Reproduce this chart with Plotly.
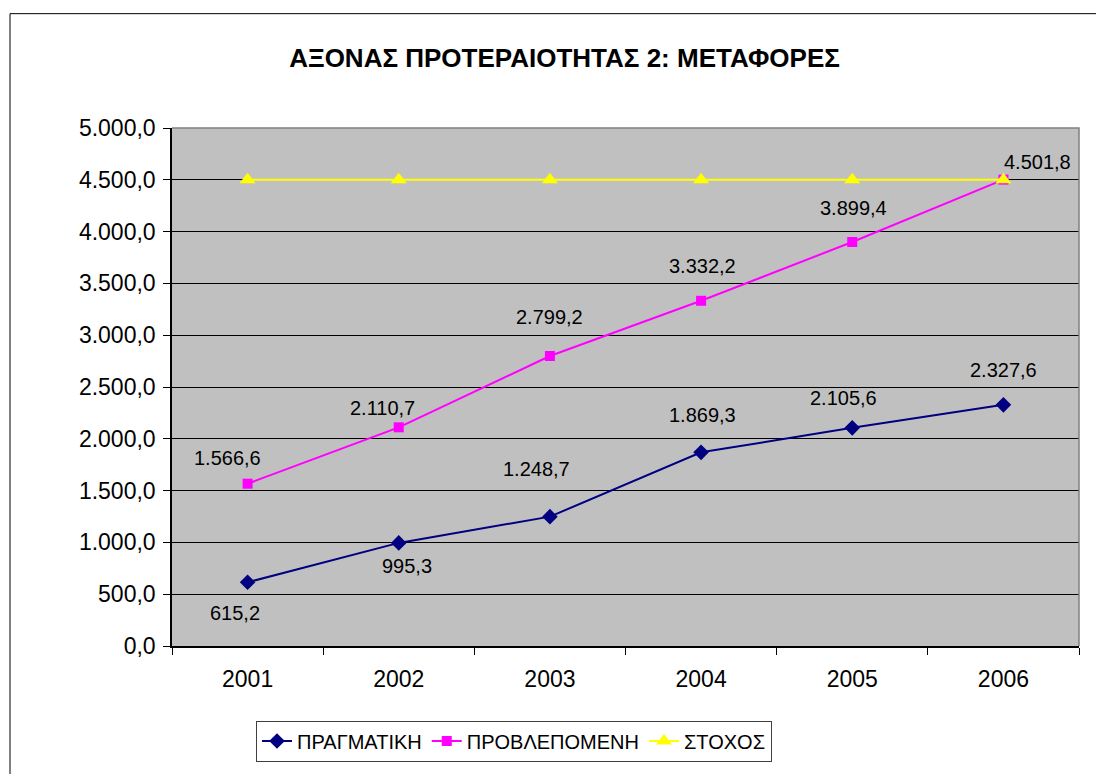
import plotly.graph_objects as go

years = ["2001", "2002", "2003", "2004", "2005", "2006"]
pragmatiki = [615.2, 995.3, 1248.7, 1869.3, 2105.6, 2327.6]
provlepomeni = [1566.6, 2110.7, 2799.2, 3332.2, 3899.4, 4501.8]
stoxos = [4500, 4500, 4500, 4500, 4500, 4500]
y_ticks = [0, 500, 1000, 1500, 2000, 2500, 3000, 3500, 4000, 4500, 5000]

names = ["ΠΡΑΓΜΑΤΙΚΗ", "ΠΡΟΒΛΕΠΟΜΕΝΗ", "ΣΤΟΧΟΣ"]
title_text = "ΑΞΟΝΑΣ ΠΡΟΤΕΡΑΙΟΤΗΤΑΣ 2: ΜΕΤΑΦΟΡΕΣ"

# label offsets (pixels) for data labels
off_prag = [(-13, -31), (8, -23), (-13, 48), (1, 37), (-9, 30), (0, 35)]
off_prov = [(-20, 26), (-16, 19), (0, 39), (1, 35), (1, 34), (34, 18)]

FONT = "Liberation Sans, Arial, sans-serif"

# page body has an 8px margin: compensate
BODY = 8
W, H = 1104 - BODY, 774 - BODY
ML, MT, MR, MB = 172 - BODY, 128 - BODY, 25, 125


def fmt(v):
    s = f"{v:,.1f}"
    return s.replace(",", "X").replace(".", ",").replace("X", ".")


fig = go.Figure()
fig.add_trace(go.Scatter(
    x=years, y=pragmatiki, name=names[0], mode="lines+markers",
    line=dict(color="#000080", width=2),
    marker=dict(symbol="diamond", size=12, color="#000080"),
))
fig.add_trace(go.Scatter(
    x=years, y=provlepomeni, name=names[1], mode="lines+markers",
    line=dict(color="#FF00FF", width=2),
    marker=dict(symbol="square", size=10, color="#FF00FF"),
))
fig.add_trace(go.Scatter(
    x=years, y=stoxos, name=names[2], mode="lines+markers",
    line=dict(color="#FFFF00", width=2),
    marker=dict(symbol="triangle-up", size=14, color="#FFFF00"),
))

annotations = []
for vals, offs in ((pragmatiki, off_prag), (provlepomeni, off_prov)):
    for i, (yv, (dx, dy)) in enumerate(zip(vals, offs)):
        # category axis: annotation x is the category's serial index
        annotations.append(dict(
            x=i, y=yv, xref="x", yref="y", text=fmt(yv), showarrow=False,
            xshift=dx, yshift=dy, font=dict(family=FONT, size=20, color="black"),
        ))

pw = W - ML - MR
ph = H - MT - MB
shapes = [
    # outer chart frame
    dict(type="rect", xref="paper", yref="paper",
         x0=(10 - 172) / pw, x1=1.2, y0=-0.6, y1=(649 - 13) / ph,
         line=dict(color="black", width=1), layer="below"),
    # gray plot area border top and right
    dict(type="path", xref="paper", yref="paper",
         path="M 0,1 L 1,1 L 1,0", line=dict(color="#808080", width=1.5),
         layer="above"),
]

fig.update_layout(
    width=W, height=H,
    margin=dict(l=ML, r=MR, t=MT, b=MB),
    paper_bgcolor="white", plot_bgcolor="#C0C0C0",
    separators=",.",
    font=dict(family=FONT, color="black"),
    title=dict(text=f"<b>{title_text}</b>", x=(564.5 - BODY) / W, y=1 - (58 - BODY) / H,
               xref="container", yref="container", xanchor="center", yanchor="middle",
               font=dict(family=FONT, size=26, color="black")),
    xaxis=dict(type="category", showgrid=False, showline=True, linecolor="black",
               linewidth=1.5, ticks="outside", tickson="boundaries", ticklen=7,
               tickcolor="black", tickfont=dict(size=23), ticklabelstandoff=12,
               range=[-0.5, 5.5], fixedrange=True),
    yaxis=dict(range=[0, 5000], tickvals=y_ticks, tickformat=",.1f",
               showgrid=True, gridcolor="black", gridwidth=1,
               showline=True, linecolor="black", linewidth=1.5,
               ticks="outside", ticklen=7, tickcolor="black",
               tickfont=dict(size=23), zeroline=False, ticklabelstandoff=3),
    legend=dict(orientation="h", x=(514 - 172) / pw, xanchor="center",
                y=(649 - 724) / ph, yanchor="top",
                bordercolor="#404040", borderwidth=1, bgcolor="white",
                font=dict(size=20), itemwidth=30, tracegroupgap=0),
    annotations=annotations,
    shapes=shapes,
    showlegend=True,
)

fig.write_html("out.html")
